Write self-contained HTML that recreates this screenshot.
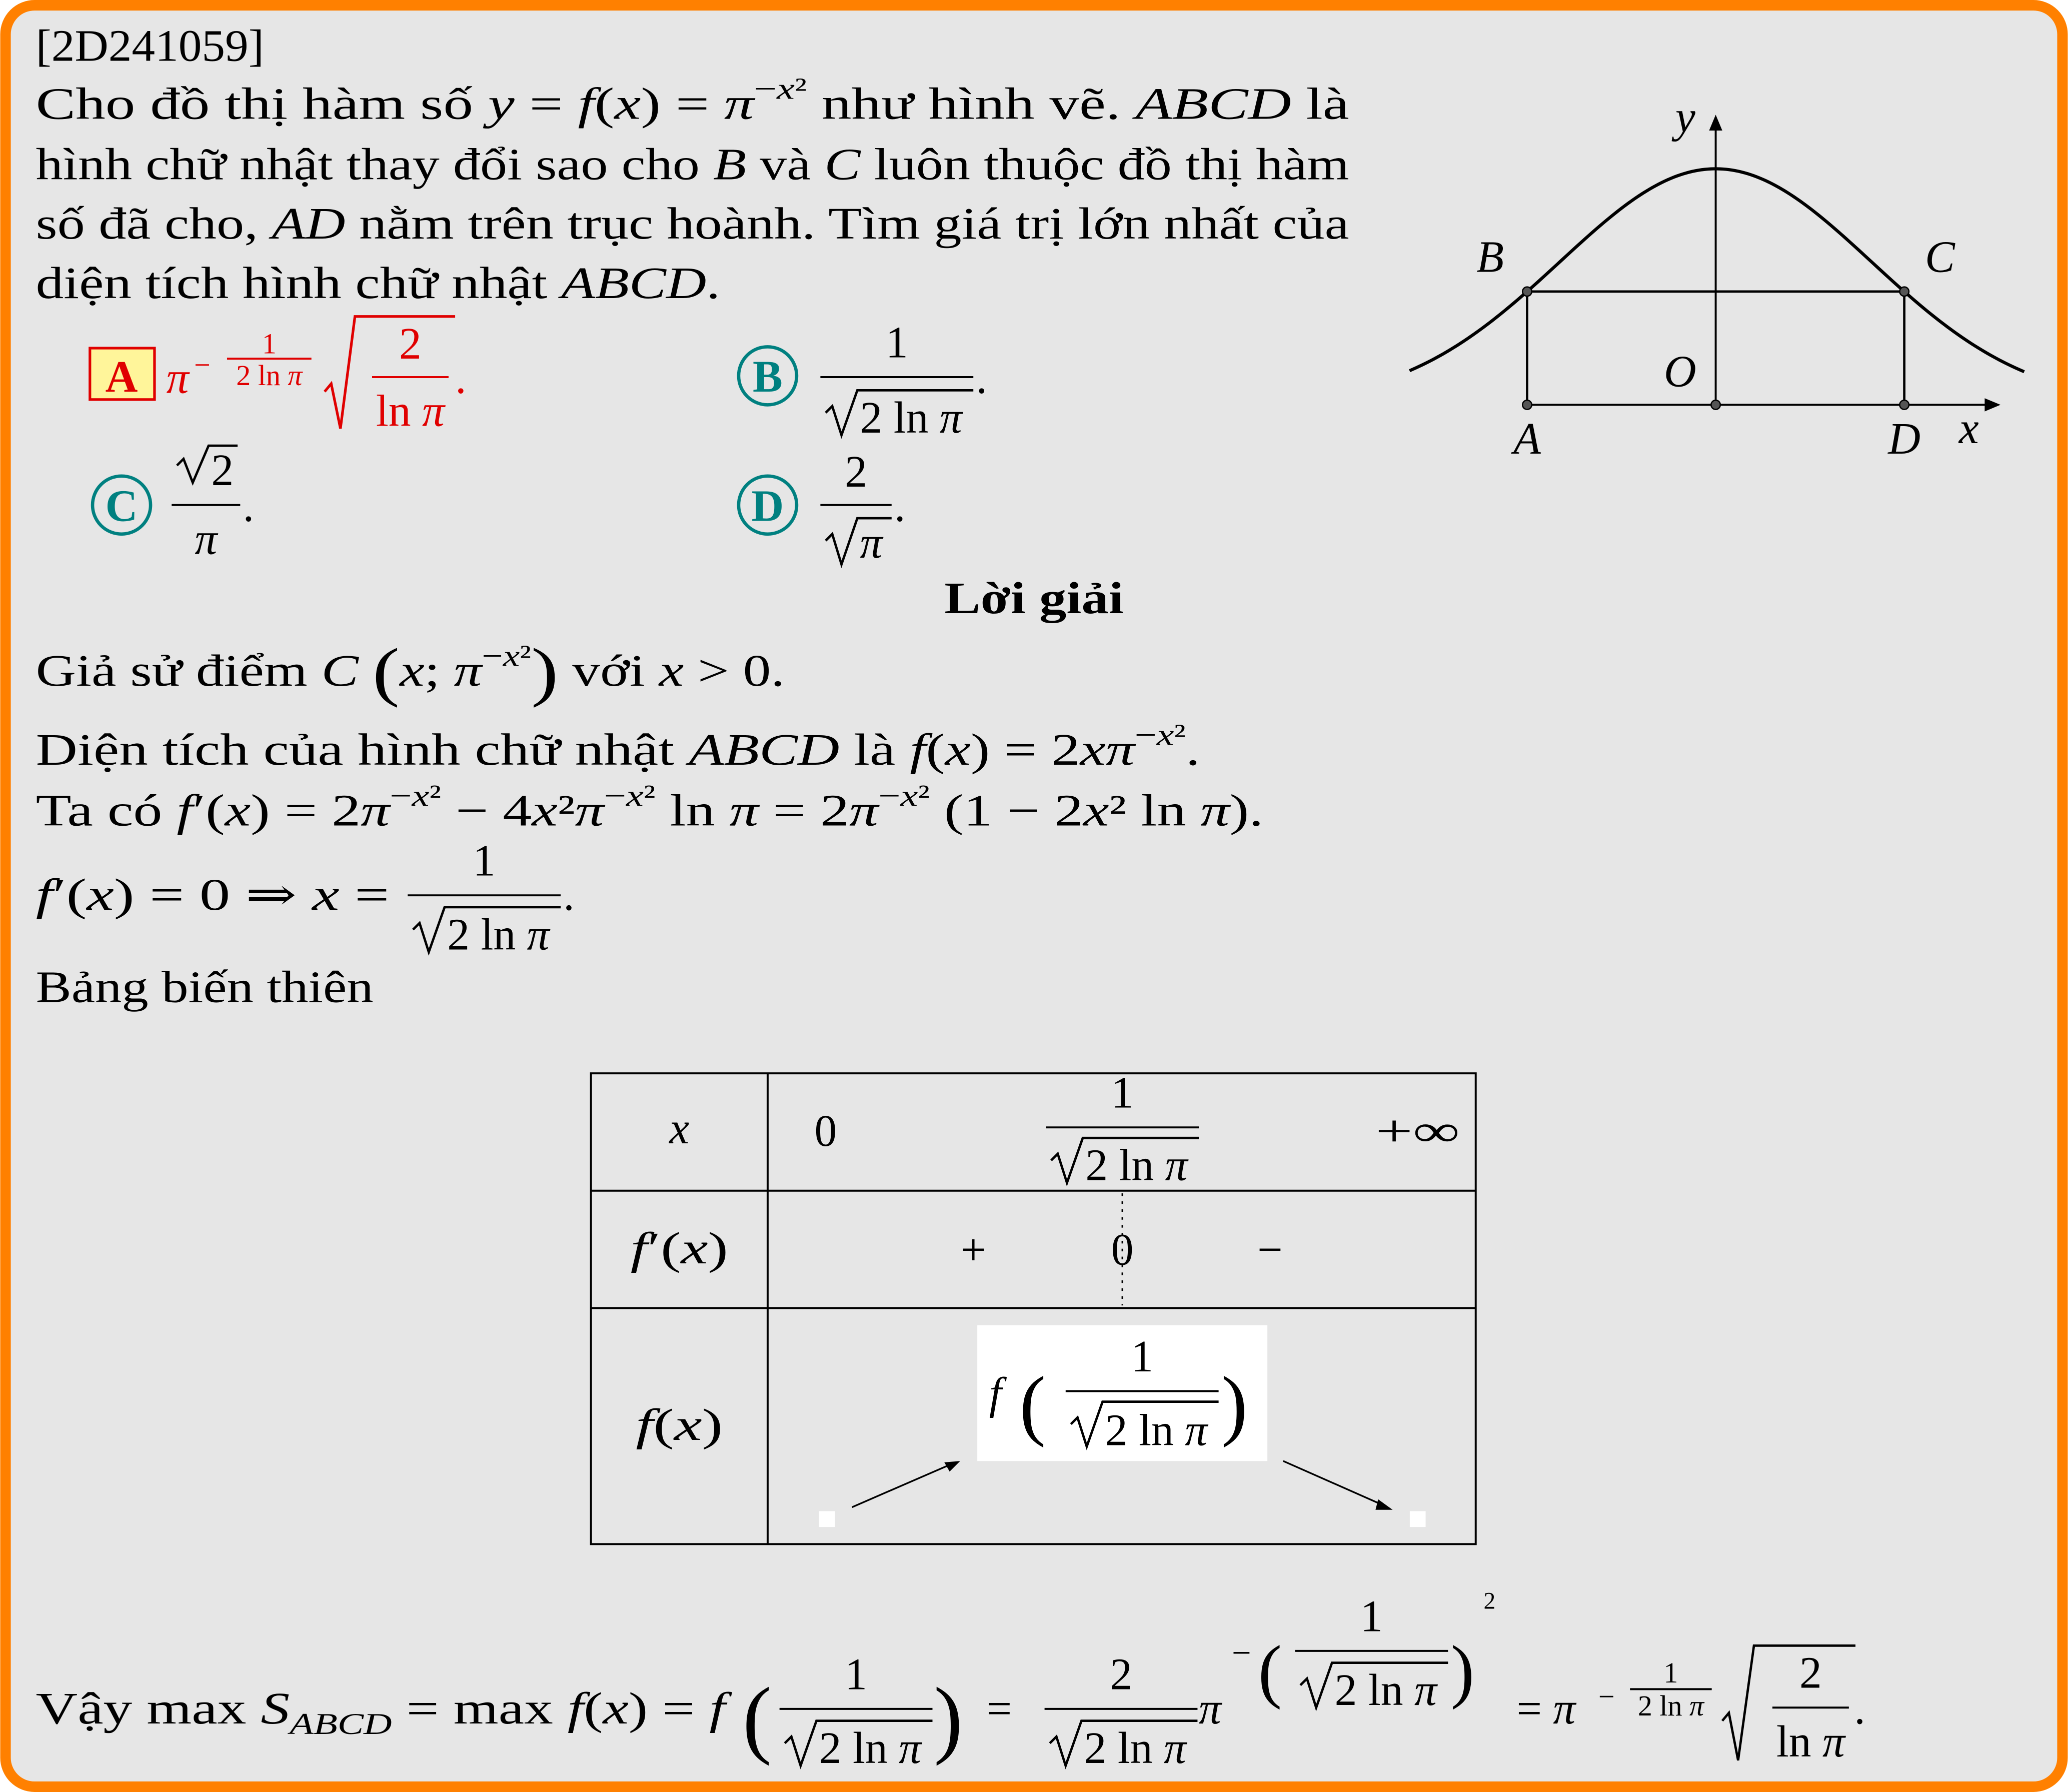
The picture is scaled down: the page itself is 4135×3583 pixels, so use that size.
<!DOCTYPE html>
<html><head><meta charset="utf-8"><style>
html,body{margin:0;padding:0;background:#fff;}
svg{display:block;}
text{font-family:"Liberation Serif","DejaVu Serif",serif;fill:#000;}
.i{font-style:italic;}
.r{fill:#e00000;}
</style></head><body>
<svg width="4135" height="3583" viewBox="0 0 1568 1359" xmlns="http://www.w3.org/2000/svg">
<rect x="4" y="4" width="1560" height="1351" rx="22" fill="#e6e6e6" stroke="#ff8000" stroke-width="8"/>
<g font-size="34">
<text x="27" y="46" textLength="173" lengthAdjust="spacingAndGlyphs">[2D241059]</text>
<text x="27" y="90" textLength="996" lengthAdjust="spacingAndGlyphs">Cho đồ thị hàm số <tspan class="i">y</tspan> = <tspan class="i">f</tspan>(<tspan class="i">x</tspan>) = <tspan class="i">π</tspan><tspan font-size="23" dy="-15">−<tspan class="i">x</tspan>²</tspan><tspan dy="15"> như hình vẽ. </tspan><tspan class="i">ABCD</tspan> là</text>
<text x="27" y="136" textLength="996" lengthAdjust="spacingAndGlyphs">hình chữ nhật thay đổi sao cho <tspan class="i">B</tspan> và <tspan class="i">C</tspan> luôn thuộc đồ thị hàm</text>
<text x="27" y="181" textLength="996" lengthAdjust="spacingAndGlyphs">số đã cho, <tspan class="i">AD</tspan> nằm trên trục hoành. Tìm giá trị lớn nhất của</text>
<text x="27" y="226" textLength="519" lengthAdjust="spacingAndGlyphs">diện tích hình chữ nhật <tspan class="i">ABCD</tspan>.</text>

<g>
<rect x="68" y="264" width="49" height="39" fill="#fff59a" stroke="#e00000" stroke-width="2"/>
<text x="92" y="297" text-anchor="middle" font-weight="bold" class="r">A</text>
<text x="126" y="298" class="i r">π</text>
<text x="147" y="284" font-size="22" class="r">−</text>
<text x="204" y="268" font-size="22" text-anchor="middle" class="r">1</text>
<line x1="172" y1="272" x2="236" y2="272" stroke="#e00000" stroke-width="1.5"/>
<text x="204" y="292" font-size="22" text-anchor="middle" class="r">2 ln <tspan class="i">π</tspan></text>
<polyline points="246,297 251,291 258,325 269,240 345,240" fill="none" stroke="#e00000" stroke-width="2"/>
<text x="311" y="272" text-anchor="middle" class="r">2</text>
<line x1="282" y1="286" x2="340" y2="286" stroke="#e00000" stroke-width="1.5"/>
<text x="311" y="323" text-anchor="middle" class="r">ln <tspan class="i">π</tspan></text>
<text x="345" y="298" class="r">.</text>
</g>
<g>
<circle cx="582" cy="285" r="22" fill="none" stroke="#008080" stroke-width="2.5"/>
<text x="582" y="297" text-anchor="middle" font-weight="bold" style="fill:#008080">B</text>
<text x="680" y="271" text-anchor="middle">1</text>
<line x1="622" y1="286" x2="738" y2="286" stroke="#000" stroke-width="1.5"/>
<polyline points="626,313 631,308 638,330 650,296 738,296" fill="none" stroke="#000" stroke-width="1.8"/>
<text x="652" y="328">2 ln <tspan class="i">π</tspan></text>
<text x="740" y="298">.</text>
</g>
<g>
<circle cx="92" cy="383" r="22" fill="none" stroke="#008080" stroke-width="2.5"/>
<text x="92" y="395" text-anchor="middle" font-weight="bold" style="fill:#008080">C</text>
<polyline points="134,353 139,348 146,366 158,338 180,338" fill="none" stroke="#000" stroke-width="1.8"/>
<text x="160" y="368">2</text>
<line x1="130" y1="383" x2="182" y2="383" stroke="#000" stroke-width="1.5"/>
<text x="156" y="420" text-anchor="middle" class="i">π</text>
<text x="184" y="395">.</text>
</g>
<g>
<circle cx="582" cy="383" r="22" fill="none" stroke="#008080" stroke-width="2.5"/>
<text x="582" y="395" text-anchor="middle" font-weight="bold" style="fill:#008080">D</text>
<text x="649" y="369" text-anchor="middle">2</text>
<line x1="622" y1="383" x2="676" y2="383" stroke="#000" stroke-width="1.5"/>
<polyline points="626,410 631,405 638,428 650,393 676,393" fill="none" stroke="#000" stroke-width="1.8"/>
<text x="652" y="423" class="i">π</text>
<text x="678" y="395">.</text>
</g>

<text x="716" y="465" font-weight="bold" textLength="136" lengthAdjust="spacingAndGlyphs">Lời giải</text>

<text x="27" y="520" textLength="568" lengthAdjust="spacingAndGlyphs">Giả sử điểm <tspan class="i">C</tspan> <tspan font-size="50" dy="6">(</tspan><tspan class="i" dy="-6">x</tspan>; <tspan class="i">π</tspan><tspan font-size="23" dy="-15">−<tspan class="i">x</tspan>²</tspan><tspan font-size="50" dy="21">)</tspan><tspan dy="-6"> với </tspan><tspan class="i">x</tspan> &gt; 0.</text>
<text x="27" y="580" textLength="883" lengthAdjust="spacingAndGlyphs">Diện tích của hình chữ nhật <tspan class="i">ABCD</tspan> là <tspan class="i">f</tspan>(<tspan class="i">x</tspan>) = 2<tspan class="i">xπ</tspan><tspan font-size="23" dy="-15">−<tspan class="i">x</tspan>²</tspan><tspan dy="15">.</tspan></text>
<text x="27" y="626" textLength="931" lengthAdjust="spacingAndGlyphs">Ta có <tspan class="i">f</tspan>′(<tspan class="i">x</tspan>) = 2<tspan class="i">π</tspan><tspan font-size="23" dy="-15">−<tspan class="i">x</tspan>²</tspan><tspan dy="15"> − 4</tspan><tspan class="i">x</tspan>²<tspan class="i">π</tspan><tspan font-size="23" dy="-15">−<tspan class="i">x</tspan>²</tspan><tspan dy="15"> ln </tspan><tspan class="i">π</tspan> = 2<tspan class="i">π</tspan><tspan font-size="23" dy="-15">−<tspan class="i">x</tspan>²</tspan><tspan dy="15"> (1 − 2</tspan><tspan class="i">x</tspan>² ln <tspan class="i">π</tspan>).</text>
<g>
<text x="27" y="690" textLength="268" lengthAdjust="spacingAndGlyphs"><tspan class="i">f</tspan>′(<tspan class="i">x</tspan>) = 0 ⇒ <tspan class="i">x</tspan> =</text>
<text x="367" y="664" text-anchor="middle">1</text>
<line x1="309" y1="679" x2="425" y2="679" stroke="#000" stroke-width="1.5"/>
<polyline points="313,705 318,700 325,722 337,688 425,688" fill="none" stroke="#000" stroke-width="1.8"/>
<text x="339" y="720">2 ln <tspan class="i">π</tspan></text>
<text x="427" y="690">.</text>
</g>
<text x="27" y="760" textLength="256" lengthAdjust="spacingAndGlyphs">Bảng biến thiên</text>

<g>
<rect x="448" y="814" width="671" height="357" fill="none" stroke="#000" stroke-width="1.5"/>
<line x1="582" y1="814" x2="582" y2="1171" stroke="#000" stroke-width="1.5"/>
<line x1="448" y1="903" x2="1119" y2="903" stroke="#000" stroke-width="1.5"/>
<line x1="448" y1="992" x2="1119" y2="992" stroke="#000" stroke-width="1.5"/>
<text x="515" y="867" text-anchor="middle" class="i">x</text>
<text x="626" y="869" text-anchor="middle">0</text>
<text x="851" y="840" text-anchor="middle">1</text>
<line x1="793" y1="855" x2="909" y2="855" stroke="#000" stroke-width="1.5"/>
<polyline points="797,880 802,875 809,897 821,863 909,863" fill="none" stroke="#000" stroke-width="1.8"/>
<text x="823" y="895">2 ln <tspan class="i">π</tspan></text>
<text x="1075" y="869" text-anchor="middle" textLength="64" lengthAdjust="spacingAndGlyphs">+∞</text>
<text x="515" y="958" text-anchor="middle" textLength="74" lengthAdjust="spacingAndGlyphs"><tspan class="i">f</tspan>′(<tspan class="i">x</tspan>)</text>
<text x="738" y="959" text-anchor="middle">+</text>
<text x="851" y="959" text-anchor="middle">0</text>
<text x="963" y="959" text-anchor="middle">−</text>
<line x1="851" y1="905" x2="851" y2="990" stroke="#000" stroke-width="1.2" stroke-dasharray="2,4"/>
<text x="515" y="1092" text-anchor="middle" textLength="66" lengthAdjust="spacingAndGlyphs"><tspan class="i">f</tspan>(<tspan class="i">x</tspan>)</text>
<rect x="741" y="1005" width="220" height="103" fill="#fff"/>
<text x="750" y="1068" class="i">f</text>
<text x="773" y="1085" font-size="60">(</text>
<text x="866" y="1040" text-anchor="middle">1</text>
<line x1="808" y1="1055" x2="924" y2="1055" stroke="#000" stroke-width="1.5"/>
<polyline points="812,1080 817,1075 824,1097 836,1063 924,1063" fill="none" stroke="#000" stroke-width="1.8"/>
<text x="838" y="1096">2 ln <tspan class="i">π</tspan></text>
<text x="926" y="1085" font-size="60">)</text>
<rect x="621" y="1146" width="12" height="12" fill="#fff"/>
<rect x="1069" y="1146" width="12" height="12" fill="#fff"/>
<line x1="646" y1="1143" x2="722" y2="1110" stroke="#000" stroke-width="1.3"/>
<polygon points="728,1108 716,1109 720,1116" fill="#000"/>
<line x1="973" y1="1108" x2="1050" y2="1142" stroke="#000" stroke-width="1.3"/>
<polygon points="1056,1145 1045,1137 1043,1145" fill="#000"/>
</g>

<g>
<text x="27" y="1307" textLength="523" lengthAdjust="spacingAndGlyphs">Vậy max <tspan class="i">S</tspan><tspan class="i" font-size="23" dy="8">ABCD</tspan><tspan dy="-8"> = max </tspan><tspan class="i">f</tspan>(<tspan class="i">x</tspan>) = <tspan class="i">f</tspan></text>
<text x="563" y="1325" font-size="66">(</text>
<text x="649" y="1281" text-anchor="middle">1</text>
<line x1="591" y1="1296" x2="707" y2="1296" stroke="#000" stroke-width="1.5"/>
<polyline points="595,1322 600,1317 607,1339 619,1305 707,1305" fill="none" stroke="#000" stroke-width="1.8"/>
<text x="621" y="1337">2 ln <tspan class="i">π</tspan></text>
<text x="708" y="1325" font-size="66">)</text>
<text x="748" y="1307">=</text>
<text x="850" y="1281" text-anchor="middle">2</text>
<line x1="792" y1="1296" x2="908" y2="1296" stroke="#000" stroke-width="1.5"/>
<polyline points="796,1322 801,1317 808,1339 820,1305 908,1305" fill="none" stroke="#000" stroke-width="1.8"/>
<text x="822" y="1337">2 ln <tspan class="i">π</tspan></text>
<text x="909" y="1307" class="i">π</text>
<text x="934" y="1262" font-size="26">−</text>
<text x="954" y="1285" font-size="54">(</text>
<text x="1040" y="1237" text-anchor="middle">1</text>
<line x1="982" y1="1252" x2="1098" y2="1252" stroke="#000" stroke-width="1.5"/>
<polyline points="986,1278 991,1273 998,1295 1010,1261 1098,1261" fill="none" stroke="#000" stroke-width="1.8"/>
<text x="1012" y="1293">2 ln <tspan class="i">π</tspan></text>
<text x="1100" y="1285" font-size="54">)</text>
<text x="1125" y="1220" font-size="18">2</text>
<text x="1150" y="1307">= <tspan class="i">π</tspan></text>
<text x="1212" y="1294" font-size="22">−</text>
<text x="1267" y="1276" font-size="22" text-anchor="middle">1</text>
<line x1="1236" y1="1281" x2="1298" y2="1281" stroke="#000" stroke-width="1.5"/>
<text x="1267" y="1301" font-size="22" text-anchor="middle">2 ln <tspan class="i">π</tspan></text>
<polyline points="1306,1305 1311,1299 1318,1335 1330,1248 1407,1248" fill="none" stroke="#000" stroke-width="1.8"/>
<text x="1373" y="1280" text-anchor="middle">2</text>
<line x1="1344" y1="1295" x2="1402" y2="1295" stroke="#000" stroke-width="1.5"/>
<text x="1373" y="1332" text-anchor="middle">ln <tspan class="i">π</tspan></text>
<text x="1406" y="1307">.</text>
</g>
</g>

<g id="graph"></g>
</svg>
<script>
const xDomain = [-1.30, 1.31];
const basePi = Math.PI;
const pointX = 0.8008;
const tickLabels = ['A','B','C','D','O','x','y'];
const NS = 'http://www.w3.org/2000/svg';
const ox = 1301, oy = 307, sx = 178.6, sy = 179;
const X = v => ox + v * sx;
const Y = v => oy - v * sy;
const f = v => Math.pow(basePi, -v * v);
const g = document.getElementById('graph');
function mk(tag, attrs) { const e = document.createElementNS(NS, tag); for (const k in attrs) e.setAttribute(k, attrs[k]); g.appendChild(e); return e; }
let d = '';
for (let i = 0; i <= 200; i++) { const v = xDomain[0] + (xDomain[1] - xDomain[0]) * i / 200; d += (i ? 'L' : 'M') + X(v).toFixed(2) + ',' + Y(f(v)).toFixed(2); }
const curve = mk('path', {d: d, fill: 'none', stroke: '#000', 'stroke-width': 2.4});


const xa = mk('line', {x1: 1157, y1: oy, x2: 1508, y2: oy, stroke: '#000', 'stroke-width': 1.5});


mk('polygon', {points: '1517,307 1505,302 1505,312', fill: '#000'});
const ya = mk('line', {x1: ox, y1: oy, x2: ox, y2: 96, stroke: '#000', 'stroke-width': 1.5});


mk('polygon', {points: '1301,87 1296,99 1306,99', fill: '#000'});
const xb = X(-pointX), xc = X(pointX), yb = Y(f(pointX));
const rect = mk('polyline', {points: `${xb},${oy} ${xb},${yb} ${xc},${yb} ${xc},${oy}`, fill: 'none', stroke: '#000', 'stroke-width': 1.8});


[[xb,oy],[xb,yb],[xc,yb],[xc,oy],[ox,oy]].forEach(p => {
  const c = mk('circle', {cx: p[0], cy: p[1], r: 3.5, fill: '#555', stroke: '#000', 'stroke-width': 1});
  
  
});
const lbl = [[xb, oy+37, 0],[xb-28, yb-15, 1],[xc+27, yb-15, 2],[xc, oy+37, 3],[ox-27, oy-14, 4],[1493, oy+29, 5],[1278, 100, 6]];
lbl.forEach(l => {
  const t = mk('text', {x: l[0], y: l[1], 'font-size': 34, 'font-style': 'italic', 'text-anchor': 'middle'});
  t.textContent = tickLabels[l[2]];
  
  
});
</script>
</body></html>
